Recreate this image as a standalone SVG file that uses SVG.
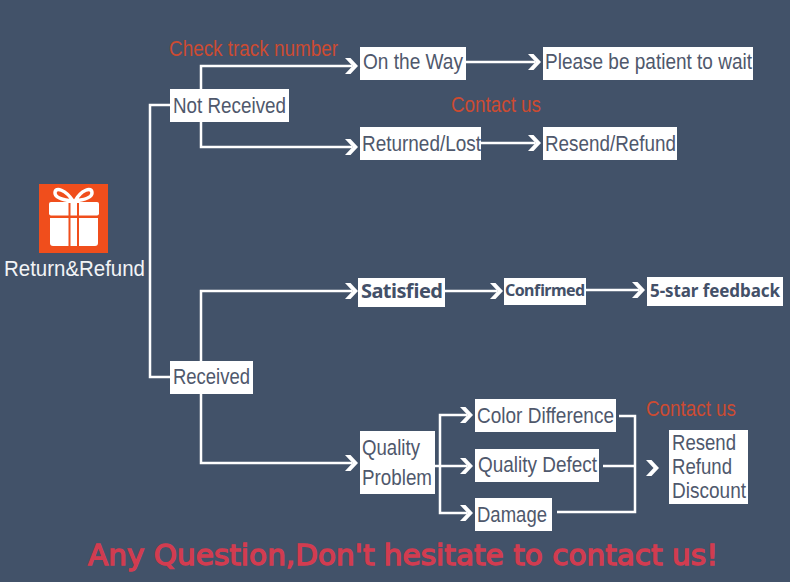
<svg xmlns="http://www.w3.org/2000/svg" width="790" height="582" viewBox="0 0 790 582">
<defs>
<style>
.box{fill:#fff}
.t{font-family:"Liberation Sans",Arial,sans-serif;font-size:22px;fill:#4f586c}
.b{font-family:"Noto Sans","Open Sans",sans-serif;font-weight:700;fill:#435068}
.r{font-family:"Liberation Sans",Arial,sans-serif;font-size:22px;fill:#cc4b32}
.w{fill:none;stroke:#fff;stroke-width:2.5}
.h{fill:#fff}
</style>
<path id="chev" d="M-13 -8H-7.500L0 0L-7.500 8H-13L-5.500 0Z"/>
</defs>
<rect width="790" height="582" fill="#425269"/>
<g id="connectors">
<path class="w" d="M170 105H150V377H170"/>
<path class="w" d="M201 89V66H352"/>
<path class="w" d="M201 122V147H352"/>
<path class="w" d="M201 361V291H352"/>
<path class="w" d="M201 394V463H352"/>
<path class="w" d="M466 62H535"/>
<path class="w" d="M481 143H535"/>
<path class="w" d="M445 291H497"/>
<path class="w" d="M586 290H639"/>
<path class="w" d="M467 415H440V513H467"/>
<path class="w" d="M435 466H467"/>
<path class="w" d="M619 416H635V512H557"/>
<path class="w" d="M603 466H635"/>
<g class="h">
<use href="#chev" transform="translate(358 66)"/>
<use href="#chev" transform="translate(358 147)"/>
<use href="#chev" transform="translate(358 291)"/>
<use href="#chev" transform="translate(358 463)"/>
<use href="#chev" transform="translate(541 62)"/>
<use href="#chev" transform="translate(541 143)"/>
<use href="#chev" transform="translate(503 291)"/>
<use href="#chev" transform="translate(645 290)"/>
<use href="#chev" transform="translate(473 415)"/>
<use href="#chev" transform="translate(473 466)"/>
<use href="#chev" transform="translate(473 513)"/>
<use href="#chev" transform="translate(659 468)"/>
</g>
</g>
<g id="gift">
<rect x="39" y="184" width="69" height="69" fill="#f04e1c"/>
<rect x="49" y="202" width="50" height="13.500" rx="2" fill="#fff"/>
<path d="M50 218H98V243Q98 246 95 246H53Q50 246 50 243Z" fill="#fff"/>
<rect x="68.500" y="203" width="2" height="43" fill="#f04e1c"/>
<rect x="77" y="203" width="2" height="43" fill="#f04e1c"/>
<path d="M73 201C66 190 55 186 55 193C55 198 63 200 73 201C84 200 92 198 92 193C92 186 81 190 75 201" fill="none" stroke="#fff" stroke-width="3.500"/>
<text x="4" y="276" textLength="141" lengthAdjust="spacingAndGlyphs" font-family="'Liberation Sans',Arial,sans-serif" font-size="21.500" fill="#f2f4f6">Return&amp;Refund</text>
</g>
<g id="not-received"><rect class="box" x="170" y="89" width="119" height="33"/><text class="t" x="173" y="112.500" textLength="113" lengthAdjust="spacingAndGlyphs">Not Received</text></g>
<g id="on-the-way"><rect class="box" x="360" y="47" width="106" height="33"/><text class="t" x="363" y="69" textLength="100" lengthAdjust="spacingAndGlyphs">On the Way</text></g>
<g id="returned-lost"><rect class="box" x="360" y="127" width="121" height="33"/><text class="t" x="362" y="151" textLength="119" lengthAdjust="spacingAndGlyphs">Returned/Lost</text></g>
<g id="please-wait"><rect class="box" x="543" y="47" width="210" height="33"/><text class="t" x="545" y="69" textLength="207" lengthAdjust="spacingAndGlyphs">Please be patient to wait</text></g>
<g id="resend-refund"><rect class="box" x="543" y="127" width="134" height="33"/><text class="t" x="545" y="151" textLength="131" lengthAdjust="spacingAndGlyphs">Resend/Refund</text></g>
<g id="satisfied"><rect class="box" x="358" y="278" width="87" height="29"/><text class="b" x="361" y="298" font-size="20" textLength="82">Satisfied</text></g>
<g id="confirmed"><rect class="box" x="504" y="278" width="82" height="27"/><text class="b" x="505" y="296" font-size="16" textLength="80">Confirmed</text></g>
<g id="five-star"><rect class="box" x="647" y="277" width="136" height="29"/><text class="b" x="650" y="297" font-size="17" textLength="130">5-star feedback</text></g>
<g id="received"><rect class="box" x="170" y="361" width="83" height="33"/><text class="t" x="173" y="384" textLength="77" lengthAdjust="spacingAndGlyphs">Received</text></g>
<g id="quality-problem"><rect class="box" x="360" y="431" width="75" height="63"/><text class="t" x="362" y="455" textLength="58" lengthAdjust="spacingAndGlyphs">Quality</text><text class="t" x="362" y="485" textLength="70" lengthAdjust="spacingAndGlyphs">Problem</text></g>
<g id="color-difference"><rect class="box" x="475" y="399" width="141" height="33"/><text class="t" x="477" y="423" textLength="137" lengthAdjust="spacingAndGlyphs">Color Difference</text></g>
<g id="quality-defect"><rect class="box" x="475" y="449" width="124" height="33"/><text class="t" x="478" y="472" textLength="119" lengthAdjust="spacingAndGlyphs">Quality Defect</text></g>
<g id="damage"><rect class="box" x="475" y="498" width="77" height="33"/><text class="t" x="477" y="522" textLength="70" lengthAdjust="spacingAndGlyphs">Damage</text></g>
<g id="outcome"><rect class="box" x="669" y="430" width="79" height="74"/><text class="t" x="672" y="450" textLength="64" lengthAdjust="spacingAndGlyphs">Resend</text><text class="t" x="672" y="474" textLength="60" lengthAdjust="spacingAndGlyphs">Refund</text><text class="t" x="672" y="498" textLength="74" lengthAdjust="spacingAndGlyphs">Discount</text></g>
<g id="labels">
<text class="r" x="169" y="56" textLength="169" lengthAdjust="spacingAndGlyphs">Check track number</text>
<text class="r" x="451" y="112" textLength="90" lengthAdjust="spacingAndGlyphs">Contact us</text>
<text class="r" x="646" y="416" textLength="90" lengthAdjust="spacingAndGlyphs">Contact us</text>
<text x="88" y="565" font-family="'DejaVu Sans',sans-serif" font-size="28" fill="#d23c50" stroke="#d23c50" stroke-width="1.300" textLength="630" lengthAdjust="spacingAndGlyphs">Any Question,Don't hesitate to contact us!</text>
</g>
</svg>
